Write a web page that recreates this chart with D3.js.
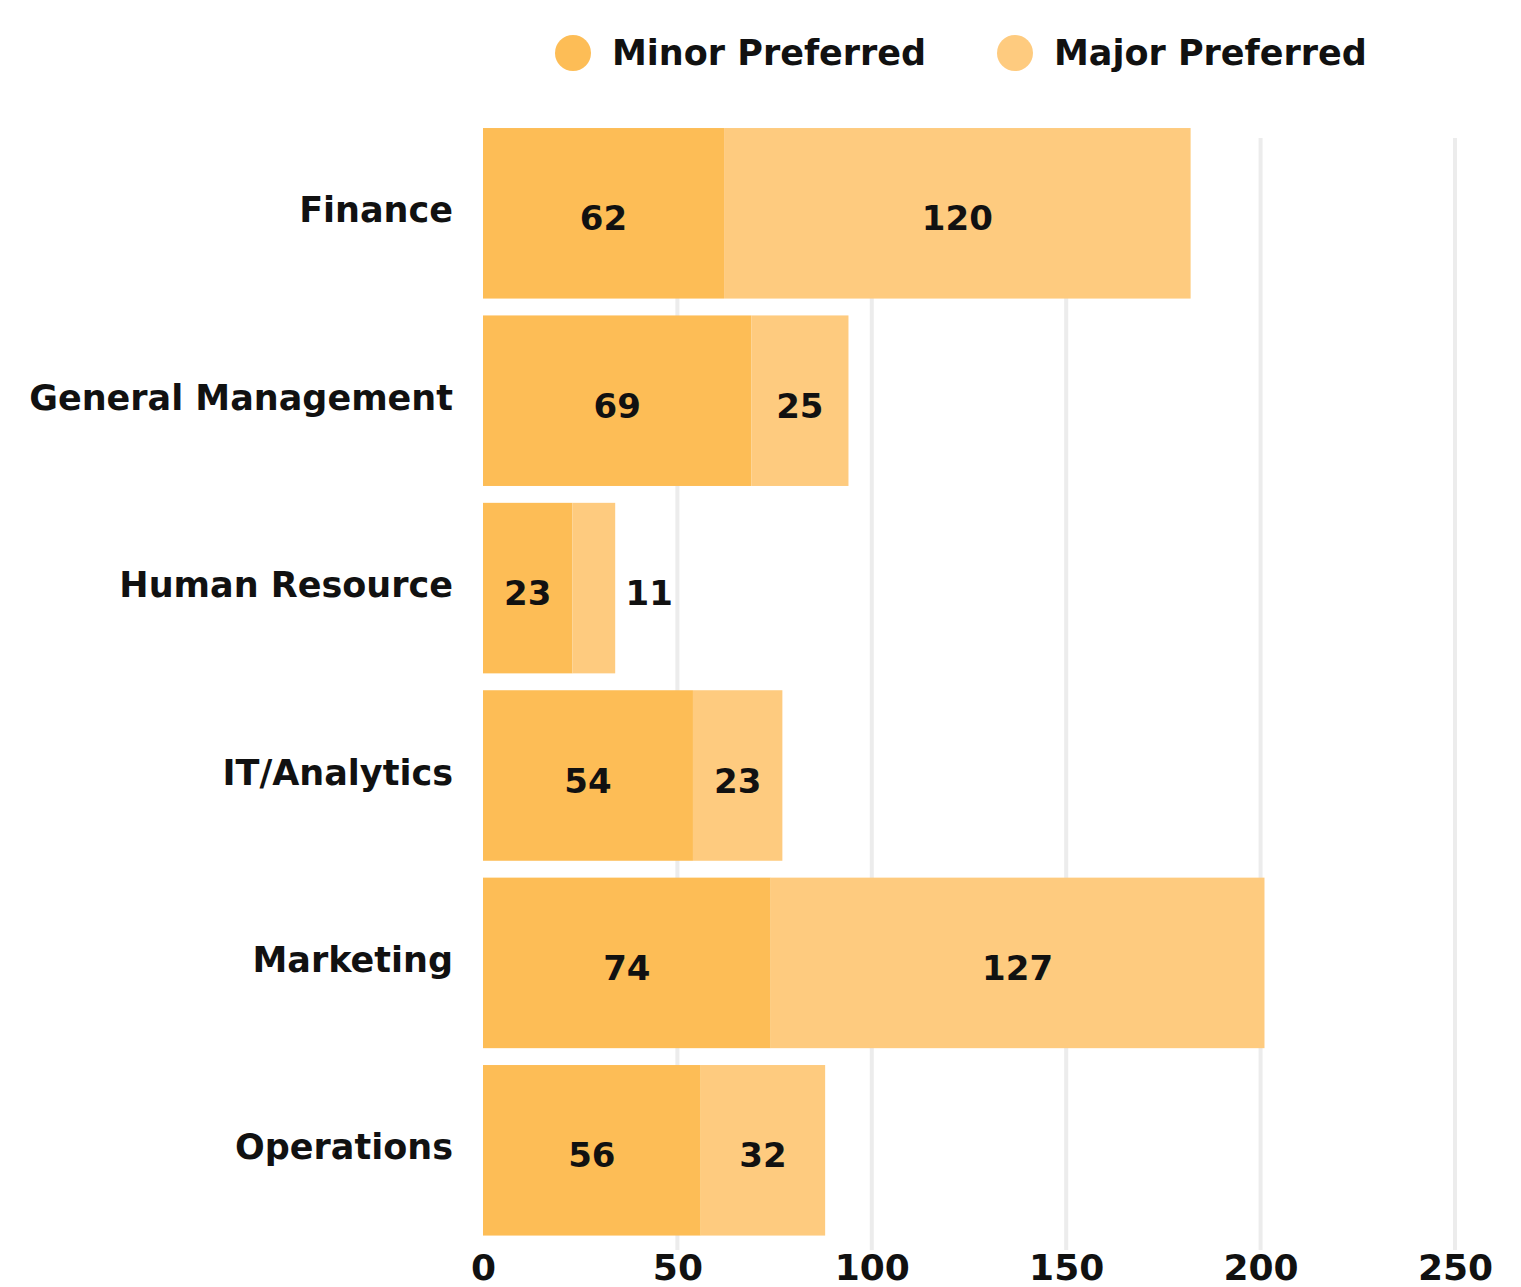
<!DOCTYPE html>
<html><head><meta charset="utf-8">
<script src="https://cdn.jsdelivr.net/npm/d3@7"></script>
<style>
html,body{margin:0;padding:0;background:#fff;}
svg text{font-family:"DejaVu Sans",sans-serif;font-weight:700;fill:#111;}
</style></head>
<body>
<svg id="chart" width="1521" height="1287"></svg>
<script>
const categories = ["Finance","General Management","Human Resource","IT/Analytics","Marketing","Operations"];
const minorPreferred = [62,69,23,54,74,56];
const majorPreferred = [120,25,11,23,127,32];
const seriesNames = ["Minor Preferred","Major Preferred"];
const xTicks = [0,50,100,150,200,250];
const colors = ["#FDBD56","#FECB7F"];

const svg = d3.select("#chart");
const x = d3.scaleLinear().domain([0,250]).range([483,1455]);
const y = d3.scaleBand().domain(categories).range([119.6,1244]).paddingInner(0.09).paddingOuter(0.045);

// gridlines
svg.append("g").selectAll("line").data(xTicks.slice(1)).join("line")
  .attr("x1",d=>x(d)).attr("x2",d=>x(d)).attr("y1",138).attr("y2",1250)
  .attr("stroke","#ececec").attr("stroke-width",4);

const data = categories.map((c,i)=>({cat:c, minor:minorPreferred[i], major:majorPreferred[i]}));
const stack = d3.stack().keys(["minor","major"])(data);

svg.append("g").selectAll("g").data(stack).join("g")
  .attr("fill",(d,i)=>colors[i])
  .selectAll("rect").data(d=>d).join("rect")
  .attr("x",d=>x(d[0])).attr("width",d=>x(d[1])-x(d[0]))
  .attr("y",d=>y(d.data.cat)).attr("height",y.bandwidth());

// value labels
stack.forEach((s,si)=>{
  svg.append("g").selectAll("text").data(s).join("text")
    .attr("x",d=>{
      const w = x(d[1])-x(d[0]);
      return w < 60 ? x(d[1]) + 34 : (x(d[0])+x(d[1]))/2;
    })
    .attr("y",d=>y(d.data.cat)+y.bandwidth()/2+5)
    .attr("text-anchor","middle").attr("dominant-baseline","central")
    .style("font-size","34px")
    .text(d=>d[1]-d[0]);
});

// y axis labels
svg.append("g").selectAll("text").data(categories).join("text")
  .attr("x",453).attr("y",d=>y(d)+y.bandwidth()/2-3)
  .attr("text-anchor","end").attr("dominant-baseline","central")
  .style("font-size","35px").text(d=>d);

// x axis
const xAxis = svg.append("g").attr("transform","translate(0,1246)")
  .call(d3.axisBottom(x).tickValues(xTicks).tickSize(0).tickPadding(8));
xAxis.select(".domain").remove();
xAxis.selectAll("text").style("font-size","36px").style("font-family","'DejaVu Sans',sans-serif").style("font-weight","700").attr("fill","#111");

// legend
const leg = svg.append("g");
const legX = [573,1015];
seriesNames.forEach((n,i)=>{
  leg.append("circle").attr("cx",legX[i]).attr("cy",53).attr("r",18).attr("fill",colors[i]);
  leg.append("text").attr("x",legX[i]+39).attr("y",53).attr("dominant-baseline","central")
    .style("font-size","35px").text(n);
});
</script>
</body></html>
